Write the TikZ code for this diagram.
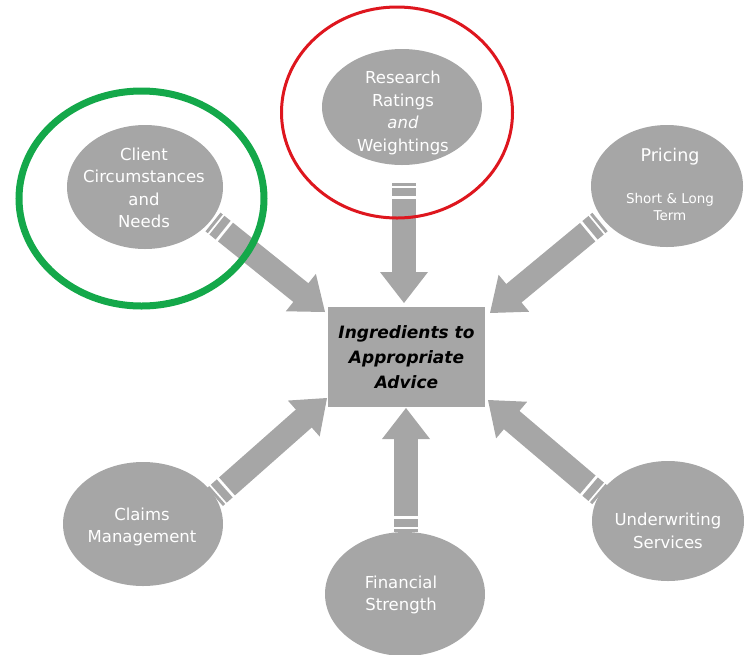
\documentclass[tikz,border=0pt]{standalone}
\usepackage{fontspec}
\setmainfont{DejaVu Sans}
\usetikzlibrary{shapes.geometric,decorations.markings}
\definecolor{boxgray}{RGB}{166,166,166}
\definecolor{ringgreen}{RGB}{20,168,74}
\definecolor{ringred}{RGB}{222,22,30}
\tikzset{
  bubble/.style={ellipse, fill=boxgray, draw=none, inner sep=0pt},
  btext/.style={text=white, align=center, inner sep=0pt, font=\fontsize{16.5}{22.5}\selectfont},
  shaft/.style={draw=boxgray, line width=24pt, shorten <=16pt, shorten >=29pt},
  ends/.style={decorate, decoration={markings,
     mark=at position 0 with {\fill[boxgray] (0,-12) rectangle (3,12); \fill[boxgray] (5,-12) rectangle (13,12);},
     mark=at position 1 with {\fill[boxgray] (0,0) -- (-31,24) -- (-31,-24) -- cycle;}}},
  ring/.style={ellipse, draw, fill=none, inner sep=0pt}
}
\newcommand\bigarrow[2]{\draw[shaft] (#1) -- (#2); \path[ends] (#1) -- (#2);}
\begin{document}
\begin{tikzpicture}[x=1pt,y=-1pt]
\useasboundingbox (0,0) rectangle (744,654);
% bubbles
\node[bubble, minimum width=156pt, minimum height=124pt] (client) at (145,187) {};
\node[bubble, minimum width=160pt, minimum height=116pt] (research) at (402,107) {};
\node[bubble, minimum width=152pt, minimum height=122pt] (pricing) at (667,186) {};
\node[bubble, minimum width=160pt, minimum height=124pt] (claims) at (143,524) {};
\node[bubble, minimum width=160pt, minimum height=124pt] (financial) at (405,594) {};
\node[bubble, minimum width=152pt, minimum height=120pt] (under) at (668,521) {};
% bubble texts
\node[btext] (clientt) at (144,188) {Client\\Circumstances\\and\\Needs};
\node[btext] (researcht) at (403,113) {Research\\Ratings\\\textit{and}\\Weightings};
\node[btext, font=\fontsize{17.5}{20}\selectfont] (pricingt) at (670,157) {Pricing};
\node[btext, font=\fontsize{13.5}{17}\selectfont] (pricings) at (670,207) {Short \& Long\\Term};
\node[btext] (claimst) at (142,527) {Claims\\Management};
\node[btext] (financialt) at (401,595) {Financial\\Strength};
\node[btext] (undert) at (668,531) {Underwriting\\Services};
% central box
\node[fill=boxgray, minimum width=157pt, minimum height=100pt, inner sep=0pt, align=center,
      font=\fontsize{17}{25}\selectfont\bfseries\itshape] (center) at (406.5,357) {Ingredients to\\Appropriate\\Advice};
% arrow end points
\coordinate (s1) at (213,222); \coordinate (t1) at (325,312);
\coordinate (s2) at (404,183); \coordinate (t2) at (404,303);
\coordinate (s3) at (600,222); \coordinate (t3) at (490,313);
\coordinate (s4) at (215,497); \coordinate (t4) at (327,398);
\coordinate (s5) at (406,532); \coordinate (t5) at (406,408);
\coordinate (s6) at (600,495); \coordinate (t6) at (488,400);
\bigarrow{s1}{t1}
\bigarrow{s2}{t2}
\bigarrow{s3}{t3}
\bigarrow{s4}{t4}
\bigarrow{s5}{t5}
\bigarrow{s6}{t6}
% highlight rings
\node[ring, draw=ringgreen, line width=7pt, minimum width=245pt, minimum height=215pt] (greenring) at (141.5,198.5) {};
\node[ring, draw=ringred, line width=3pt, minimum width=231pt, minimum height=211pt] (redring) at (397,112.5) {};
\end{tikzpicture}
\end{document}
